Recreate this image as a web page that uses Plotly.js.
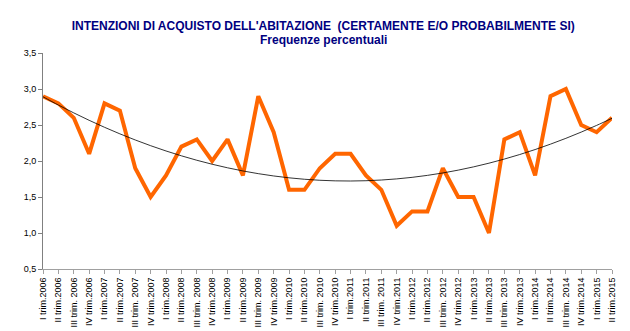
<!DOCTYPE html>
<html><head><meta charset="utf-8">
<script src="https://cdn.plot.ly/plotly-3.0.1.min.js"></script>
<style>body{margin:0;background:#fff}#c{width:630px;height:331px}</style>
</head><body><div id="c"></div>
<script>
const categories = [
 "I trim.2006","II trim.2006","III trim. 2006","IV trim.2006",
 "I trim.2007","II trim.2007","III trim. 2007","IV trim.2007",
 "I trim.2008","II trim.2008","III trim. 2008","IV trim.2008",
 "I trim.2009","II trim.2009","III trim. 2009","IV trim.2009",
 "I trim.2010","II trim.2010","III trim. 2010","IV trim.2010",
 "I trim.2011","II trim.2011","III trim. 2011","IV trim.2011",
 "I trim.2012","II trim.2012","III trim. 2012","IV trim.2012",
 "I trim.2013","II trim.2013","III trim. 2013","IV trim.2013",
 "I trim.2014","II trim.2014","III trim. 2014","IV trim.2014",
 "I trim.2015","II trim.2015"];
const values = [2.9,2.8,2.6,2.1, 2.8,2.7,1.9,1.5, 1.8,2.2,2.3,2.0, 2.3,1.8,2.9,2.4,
 1.6,1.6,1.9,2.1, 2.1,1.8,1.6,1.1, 1.3,1.3,1.9,1.5, 1.5,1.0,2.3,2.4, 1.8,2.9,3.0,2.5, 2.4,2.6];
const yTicks = [0.5,1.0,1.5,2.0,2.5,3.0,3.5];
const titleText = "INTENZIONI DI ACQUISTO DELL'ABITAZIONE  (CERTAMENTE E/O PROBABILMENTE SI)";
const subtitleText = "Frequenze percentuali";

// order-2 polynomial trendline (least squares on the series, as Excel does)
function polyFit2(ys){
  const n=ys.length; let s=[0,0,0,0,0], t=[0,0,0];
  for(let i=0;i<n;i++){const x=i+1;let p=1;for(let k=0;k<5;k++){s[k]+=p;p*=x;}
    t[0]+=ys[i];t[1]+=ys[i]*x;t[2]+=ys[i]*x*x;}
  const A=[[s[0],s[1],s[2],t[0]],[s[1],s[2],s[3],t[1]],[s[2],s[3],s[4],t[2]]];
  for(let c=0;c<3;c++){for(let r=c+1;r<3;r++){const f=A[r][c]/A[c][c];for(let k=c;k<4;k++)A[r][k]-=f*A[c][k];}}
  const co=[0,0,0];for(let r=2;r>=0;r--){let v=A[r][3];for(let k=r+1;k<3;k++)v-=A[r][k]*co[k];co[r]=v/A[r][r];}
  return ys.map((_,i)=>{const x=i+1;return co[0]+co[1]*x+co[2]*x*x;});
}
const trend = polyFit2(values);

const tfont = {family:'Liberation Sans, Arial, sans-serif',size:12,color:'#00007F'};
const data = [
 {x:categories,y:values,type:'scatter',mode:'lines',line:{color:'#FF6600',width:4},hoverinfo:'y'},
 {x:categories,y:trend,type:'scatter',mode:'lines',line:{color:'#000000',width:0.8,shape:'spline'},hoverinfo:'skip'}
];
const layout = {
 width:630,height:331,showlegend:false,
 paper_bgcolor:'#fff',plot_bgcolor:'#fff',
 separators:',.',
 font:{family:'Liberation Sans, Arial, sans-serif',size:9,color:'#000'},
 margin:{l:43,r:18,t:53,b:62},
 title:{text:"<b>"+titleText+"</b>",font:tfont,x:0.513,xanchor:'center',yref:'container',y:1-26/331,yanchor:'middle'},
 annotations:[{text:"<b>"+subtitleText+"</b>",font:tfont,xref:'paper',yref:'paper',
   x:(323-43)/569,y:1+(53-39.5)/216,xanchor:'center',yanchor:'middle',showarrow:false}],
 xaxis:{type:'category',range:[0,categories.length-1],showgrid:false,zeroline:false,
   showline:true,linecolor:'#a0a0a0',linewidth:1,ticks:'outside',ticklen:4,tickcolor:'#a0a0a0',
   tickangle:-90,tickfont:{size:9},automargin:false},
 yaxis:{range:[0.5,3.5],tickvals:yTicks,tickformat:'.1f',showgrid:false,zeroline:false,
   showline:true,linecolor:'#808080',linewidth:1,ticks:'outside',ticklen:4,tickcolor:'#808080',
   tickfont:{size:9},automargin:false}
};
Plotly.newPlot('c',data,layout,{staticPlot:true});
</script></body></html>
